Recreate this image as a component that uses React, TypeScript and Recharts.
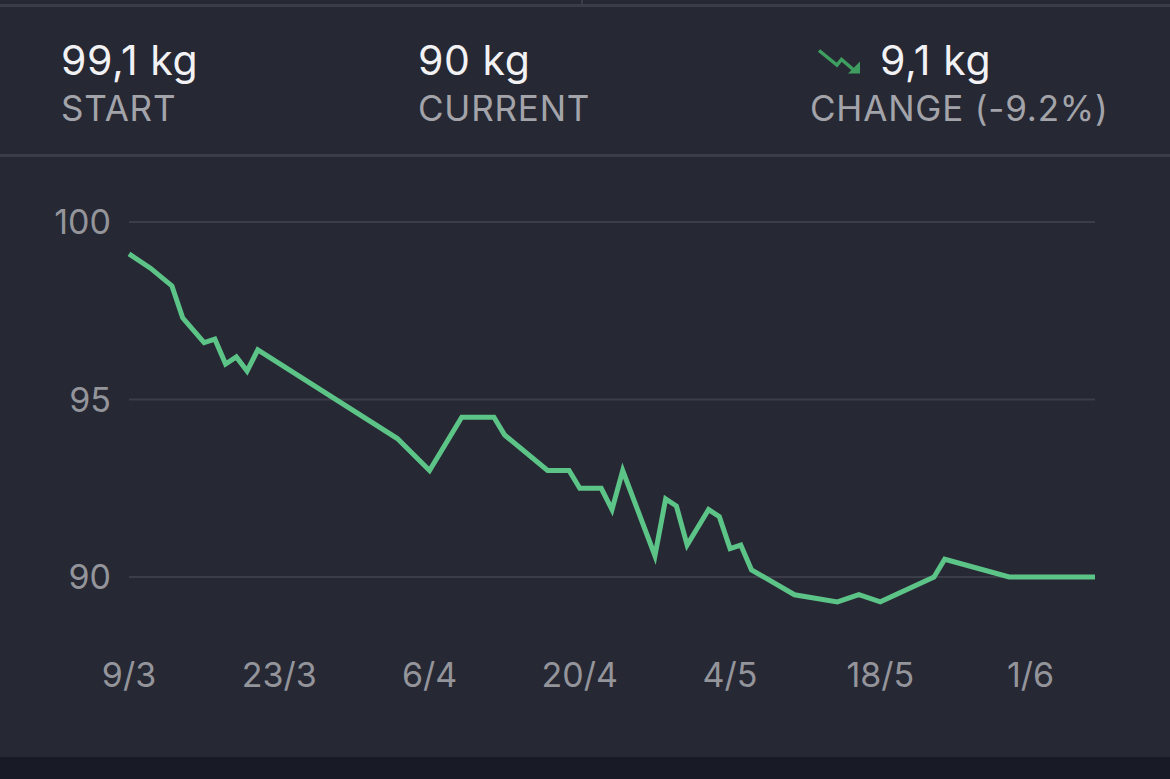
import { LineChart, Line, XAxis, YAxis, CartesianGrid } from 'recharts';

// days since 9/3 and the logged weight that day
const days = [0, 2, 4, 5, 7, 8, 9, 10, 11, 12, 25, 28, 31, 34, 35, 39, 41, 42, 44, 45, 46, 49, 50, 51, 52, 54, 55, 56, 57, 58, 62, 66, 68, 70, 75, 76, 82, 90];
const weights = [99.1, 98.7, 98.2, 97.3, 96.6, 96.7, 96.0, 96.2, 95.8, 96.4, 93.9, 93.0, 94.5, 94.5, 94.0, 93.0, 93.0, 92.5, 92.5, 91.9, 93.0, 90.6, 92.2, 92.0, 90.9, 91.9, 91.7, 90.8, 90.9, 90.2, 89.5, 89.3, 89.5, 89.3, 90.0, 90.5, 90.0, 90.0];

const tickDays = [0, 14, 28, 42, 56, 70, 84];
const tickLabels = ['9/3', '23/3', '6/4', '20/4', '4/5', '18/5', '1/6'];
const yTicks = [90, 95, 100];

const statValues = ['99,1 kg', '90 kg', '9,1 kg'];
const statLabels = ['START', 'CURRENT', 'CHANGE (-9.2%)'];
const statX = [61, 418, 810];

const data = days.map((d, i) => ({ day: d, weight: weights[i] }));

const FONT = 'Inter, "Noto Sans", sans-serif';
const GREEN = '#5cc487';

const App = () => {
    return (
        <div style={{ position: 'absolute', top: 0, left: 0, width: 1170, height: 779, background: '#262834', fontFamily: FONT, overflow: 'hidden' }}>
            {/* top dividers */}
            <div style={{ position: 'absolute', top: 4, left: 0, width: 1170, height: 3, background: '#3a3c47' }} />
            <div style={{ position: 'absolute', top: 0, left: 581, width: 2, height: 5, background: '#3a3c47' }} />

            {/* stats row */}
            {statValues.map((v, i) => (
                <div key={v}>
                    <div style={{ position: 'absolute', left: i === 2 ? 880 : statX[i], top: 40, color: '#f2f2f4', fontSize: 41, lineHeight: '41px', letterSpacing: 0.6, whiteSpace: 'nowrap' }}>
                        {v}
                    </div>
                    <div style={{ position: 'absolute', left: statX[i], top: 91, color: '#a3a4aa', fontSize: 35, lineHeight: '35px', letterSpacing: 0.8, whiteSpace: 'nowrap' }}>
                        {statLabels[i]}
                    </div>
                </div>
            ))}
            {/* trend icon */}
            <svg width={60} height={40} style={{ position: 'absolute', left: 810, top: 40 }}>
                <polyline points="9,10.5 27,25 31.5,19.5 45,31" fill="none" stroke="#3e9e60" strokeWidth={3.5} />
                <polygon points="50,21.5 50,33.5 38,33.5" fill="#3e9e60" />
            </svg>

            <div style={{ position: 'absolute', top: 154, left: 0, width: 1170, height: 3, background: '#3a3c47' }} />

            {/* Chart */}
            <div style={{ position: 'absolute', top: 157, left: 0 }}>
                <LineChart width={1170} height={600} data={data} margin={{ top: 29.5, right: 75, bottom: 0, left: 0 }}>
                    <CartesianGrid vertical={false} horizontalValues={yTicks} stroke="#3b3d48" strokeWidth={2} />
                    <XAxis
                        dataKey="day"
                        type="number"
                        domain={[0, 90]}
                        ticks={tickDays}
                        tickFormatter={(v) => tickLabels[tickDays.indexOf(v)] ?? ''}
                        height={109}
                        axisLine={false}
                        tickLine={false}
                        tickSize={0}
                        tickMargin={15}
                        interval={0}
                        tick={{ fill: '#94959b', fontSize: 34, fontFamily: FONT }}
                    />
                    <YAxis
                        type="number"
                        domain={[88, 101]}
                        ticks={yTicks}
                        width={129}
                        axisLine={false}
                        tickLine={false}
                        tickSize={0}
                        tickMargin={18}
                        tick={{ fill: '#94959b', fontSize: 34, fontFamily: FONT }}
                    />
                    <Line
                        type="linear"
                        dataKey="weight"
                        stroke={GREEN}
                        strokeWidth={5}
                        dot={false}
                        isAnimationActive={false}
                    />
                </LineChart>
            </div>

            {/* bottom band */}
            <div style={{ position: 'absolute', top: 757, left: 0, width: 1170, height: 22, background: '#181a25' }} />
        </div>
    );
};

export default App;
